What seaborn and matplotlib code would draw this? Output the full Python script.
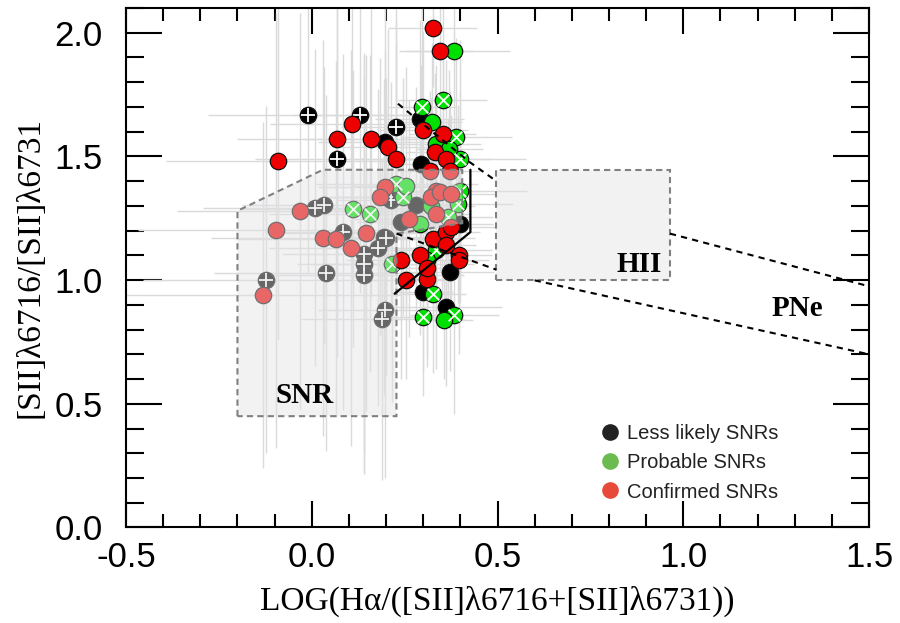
import seaborn as sns
import matplotlib.pyplot as plt
import pandas as pd
from matplotlib.patches import Polygon
from matplotlib.lines import Line2D

# Less likely SNRs
black_x = [-0.010, 0.129, 0.228, 0.290, 0.196, 0.068, 0.295, 0.008, 0.033, 0.214,
           0.241, 0.084, 0.178, 0.201, 0.140, 0.140, 0.140, 0.038, -0.124, 0.196,
           0.190, 0.300, 0.371, 0.362, 0.398, 0.200, 0.194, 0.281]
black_y = [1.668, 1.668, 1.618, 1.652, 1.557, 1.490, 1.470, 1.293, 1.302, 1.322,
           1.235, 1.194, 1.131, 1.172, 1.104, 1.067, 1.019, 1.030, 1.002, 0.881,
           0.842, 0.952, 1.033, 0.891, 1.228, 1.336, 1.174, 1.302]
black_xerr = [0.27, 0.18, 0.15, 0.12, 0.18, 0.22, 0.09, 0.30, 0.22, 0.15,
              0.12, 0.21, 0.15, 0.18, 0.22, 0.18, 0.27, 0.30, 0.33, 0.18,
              0.22, 0.08, 0.12, 0.15, 0.09, 0.15, 0.18, 0.12]
black_yerr = [0.64, 0.72, 0.48, 0.40, 0.56, 0.80, 0.40, 0.64, 0.56, 0.48,
              0.40, 0.72, 0.64, 0.56, 0.80, 0.85, 0.80, 0.72, 0.70, 0.68,
              0.65, 0.32, 0.40, 0.32, 0.32, 0.48, 0.64, 0.48]
black_cross = [1, 1, 1, 0, 0, 1, 0, 1, 1, 1,
               0, 1, 1, 1, 1, 1, 1, 1, 1, 1,
               1, 0, 0, 0, 0, 1, 0, 0]

# Probable SNRs
green_x = [0.384, 0.353, 0.298, 0.324, 0.389, 0.335, 0.398, 0.370, 0.111, 0.156,
           0.228, 0.246, 0.393, 0.290, 0.367, 0.335, 0.217, 0.326, 0.384, 0.355,
           0.300, 0.255, 0.400, 0.320, 0.350, 0.310]
green_y = [1.928, 1.729, 1.699, 1.638, 1.578, 1.551, 1.490, 1.530, 1.289, 1.268,
           1.389, 1.336, 1.309, 1.228, 1.255, 1.120, 1.067, 0.945, 0.858, 0.840,
           0.851, 1.380, 1.360, 1.300, 1.170, 1.080]
green_xerr = [0.15, 0.12, 0.09, 0.08, 0.15, 0.12, 0.18, 0.09, 0.30, 0.27,
              0.22, 0.18, 0.15, 0.09, 0.12, 0.15, 0.22, 0.09, 0.12, 0.08,
              0.09, 0.15, 0.18, 0.12, 0.09, 0.08]
green_yerr = [0.48, 0.40, 0.48, 0.32, 0.40, 0.32, 0.48, 0.32, 0.56, 0.64,
              0.56, 0.48, 0.40, 0.32, 0.40, 0.48, 0.56, 0.32, 0.40, 0.24,
              0.32, 0.48, 0.40, 0.32, 0.32, 0.24]
green_cross = [0, 1, 1, 0, 1, 0, 1, 0, 1, 1,
               1, 1, 1, 0, 1, 1, 1, 1, 1, 0,
               1, 0, 1, 0, 0, 0]

# Confirmed SNRs
red_x = [0.326, 0.344, 0.107, 0.300, 0.068, 0.159, 0.205, 0.226, -0.092, 0.353,
         0.333, 0.362, 0.317, -0.032, -0.097, 0.196, 0.183, 0.029, 0.065, 0.145,
         0.105, -0.132, 0.241, 0.254, 0.290, 0.309, 0.309, 0.326, 0.362, 0.375,
         0.362, 0.395, 0.396, 0.263, 0.335, 0.335, 0.321, 0.344, 0.375, 0.371]
red_y = [2.019, 1.928, 1.629, 1.607, 1.571, 1.571, 1.537, 1.490, 1.480, 1.591,
         1.517, 1.490, 1.443, 1.279, 1.201, 1.376, 1.336, 1.170, 1.167, 1.190,
         1.131, 0.939, 1.080, 0.999, 1.100, 1.006, 1.050, 1.167, 1.194, 1.214,
         1.140, 1.100, 1.080, 1.248, 1.268, 1.362, 1.335, 1.356, 1.349, 1.443]
red_xerr = [0.12, 0.09, 0.22, 0.12, 0.27, 0.18, 0.15, 0.12, 0.30, 0.09,
            0.08, 0.12, 0.09, 0.33, 0.37, 0.18, 0.15, 0.30, 0.27, 0.22,
            0.22, 0.37, 0.15, 0.12, 0.09, 0.08, 0.09, 0.08, 0.09, 0.12,
            0.08, 0.09, 0.08, 0.15, 0.09, 0.12, 0.09, 0.08, 0.12, 0.09]
red_yerr = [0.24, 0.32, 0.64, 0.40, 0.72, 0.64, 0.48, 0.56, 0.72, 0.32,
            0.32, 0.40, 0.32, 0.80, 0.88, 0.56, 0.56, 0.80, 0.72, 0.72,
            0.80, 0.70, 0.48, 0.40, 0.32, 0.32, 0.40, 0.32, 0.32, 0.32,
            0.32, 0.40, 0.32, 0.48, 0.40, 0.40, 0.40, 0.32, 0.32, 0.32]

# diagnostic regions
snr_x = [-0.20, -0.20, 0.03, 0.405, 0.405, 0.228, 0.228]
snr_y = [0.45, 1.28, 1.446, 1.446, 1.23, 1.188, 0.45]
hii_x = [0.497, 0.964, 0.964, 0.497]
hii_y = [1.0, 1.0, 1.446, 1.446]
pne_up1_x, pne_up1_y = [0.232, 0.425, 0.497], [1.713, 1.477, 1.40]
pne_up2_x, pne_up2_y = [0.964, 1.5], [1.188, 0.975]
pne_lo1_x, pne_lo1_y = [0.228, 0.497], [1.188, 1.042]
pne_lo2_x, pne_lo2_y = [0.60, 1.5], [0.999, 0.700]
solid_x = [0.223, 0.427, 0.427]
solid_y = [0.945, 1.194, 1.446]

cats = ['Less likely SNRs', 'Probable SNRs', 'Confirmed SNRs']
point_col = {'Less likely SNRs': '#000000', 'Probable SNRs': '#00e000', 'Confirmed SNRs': '#ee0000'}
legend_col = {'Less likely SNRs': '#222222', 'Probable SNRs': '#6cbb50', 'Confirmed SNRs': '#e84a3a'}
cross_mk = {'Less likely SNRs': '+', 'Probable SNRs': 'x', 'Confirmed SNRs': None}

df = pd.concat([
    pd.DataFrame({'x': black_x, 'y': black_y, 'xerr': black_xerr, 'yerr': black_yerr,
                  'cross': black_cross, 'cat': cats[0]}),
    pd.DataFrame({'x': green_x, 'y': green_y, 'xerr': green_xerr, 'yerr': green_yerr,
                  'cross': green_cross, 'cat': cats[1]}),
    pd.DataFrame({'x': red_x, 'y': red_y, 'xerr': red_xerr, 'yerr': red_yerr,
                  'cross': 0, 'cat': cats[2]}),
], ignore_index=True)

sns.set_style('ticks')
plt.rcParams['font.family'] = ['Liberation Sans', 'DejaVu Sans']
plt.rcParams['text.color'] = 'black'
plt.rcParams['axes.labelcolor'] = 'black'
plt.rcParams['axes.unicode_minus'] = False
serif = ['Liberation Serif', 'DejaVu Serif']

fig = plt.figure(figsize=(9, 6.23), dpi=100)
ax = fig.add_axes([0.14, 0.1533, 0.8256, 0.8339])

# error bars
ax.errorbar(df['x'], df['y'], xerr=df['xerr'], yerr=df['yerr'], fmt='none',
            ecolor='#dadada', elinewidth=1, capsize=0, zorder=1)

# points, each category with its own overlay crosses
for c in cats:
    sub = df[df['cat'] == c]
    sns.scatterplot(data=sub, x='x', y='y', color=point_col[c], s=140,
                    edgecolor='#111111', linewidth=0.9, legend=False, zorder=2, ax=ax)
    if cross_mk[c]:
        cr = sub[sub['cross'] == 1]
        ax.scatter(cr['x'], cr['y'], marker=cross_mk[c], s=110 if c == cats[0] else 70,
                   c='white', linewidths=1.3, zorder=2)

# shaded regions on top (fades points inside)
face = (0.89, 0.89, 0.90, 0.45)
ax.add_patch(Polygon(list(zip(snr_x, snr_y)), closed=True, facecolor=face,
                     edgecolor='#808080', linestyle=(0, (3, 2)), linewidth=1.5, zorder=3))
ax.add_patch(Polygon(list(zip(hii_x, hii_y)), closed=True, facecolor=face,
                     edgecolor='#808080', linestyle=(0, (3, 2)), linewidth=1.5, zorder=3))

for lx, ly in [(pne_up1_x, pne_up1_y), (pne_up2_x, pne_up2_y),
               (pne_lo1_x, pne_lo1_y), (pne_lo2_x, pne_lo2_y)]:
    ax.plot(lx, ly, color='black', linestyle=(0, (3, 2.5)), linewidth=1.5, zorder=4)
ax.plot(solid_x, solid_y, color='black', linewidth=1.6, zorder=4)

ax.text(-0.02, 0.535, 'SNR', fontsize=21, fontweight='bold', family=serif,
        ha='center', va='center', zorder=5)
ax.text(0.881, 1.065, 'HII', fontsize=21, fontweight='bold', family=serif,
        ha='center', va='center', zorder=5)
ax.text(1.308, 0.885, 'PNe', fontsize=21, fontweight='bold', family=serif,
        ha='center', va='center', zorder=5)

ax.set_xlim(-0.5, 1.5)
ax.set_ylim(0, 2.1)
ax.set_xticks([-0.5, 0.0, 0.5, 1.0, 1.5])
ax.set_xticks([i / 10 for i in range(-5, 16)], minor=True)
ax.set_yticks([0.0, 0.5, 1.0, 1.5, 2.0])
ax.set_yticks([i / 10 for i in range(0, 22)], minor=True)
ax.tick_params(which='both', direction='in', top=True, right=True, width=1.5,
               colors='black', labelsize=25)
ax.tick_params(axis='x', which='major', length=19, pad=10)
ax.tick_params(axis='x', which='minor', length=9.5)
ax.tick_params(axis='y', which='major', length=26, pad=17)
ax.tick_params(axis='y', which='minor', length=13)
for sp in ax.spines.values():
    sp.set_linewidth(1.5)
    sp.set_color('black')

ax.set_xlabel('LOG(Hα/([SII]λ6716+[SII]λ6731))', fontsize=24, family=serif, labelpad=8)
ax.set_ylabel('[SII]λ6716/[SII]λ6731', fontsize=24, family=serif, labelpad=6)

handles = [Line2D([0], [0], marker='o', linestyle='none', markerfacecolor=legend_col[c],
                  markeredgecolor='none', markersize=12) for c in cats]
ax.legend(handles, cats, loc='lower right', bbox_to_anchor=(0.8775, 0.05),
          frameon=False, fontsize=14.5, handlelength=0.8, handletextpad=0.45,
          labelspacing=0.5, borderpad=0, borderaxespad=0, labelcolor='#222222')

fig.savefig('out.png', dpi=100)
